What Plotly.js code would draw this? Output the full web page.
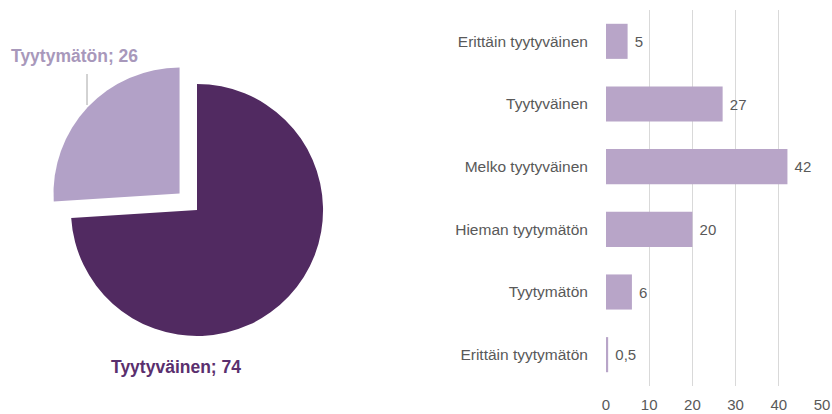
<!DOCTYPE html>
<html>
<head>
<meta charset="utf-8">
<script src="https://cdn.plot.ly/plotly-3.0.1.min.js"></script>
<style>html,body{margin:0;padding:0;background:#fff;}#chart{width:832px;height:414px;}</style>
</head>
<body>
<div id="chart"></div>
<script>
// Pie data
const pieLabels = ['Tyytyväinen', 'Tyytymätön'];
const pieValues = [74, 26];
// Bar data
const barCategories = ['Erittäin tyytyväinen', 'Tyytyväinen', 'Melko tyytyväinen', 'Hieman tyytymätön', 'Tyytymätön', 'Erittäin tyytymätön'];
const barValues = [5, 27, 42, 20, 6, 0.5];
const xTicks = [0, 10, 20, 30, 40, 50];

const W = 832, H = 414;
const px = x => x / W;
const py = y => 1 - y / H;

const pie = {
  type: 'pie',
  labels: pieLabels,
  values: pieValues,
  sort: false,
  direction: 'clockwise',
  rotation: 0,
  pull: [0, 0.19],
  marker: {colors: ['#512a61', '#b2a1c7'], line: {width: 0}},
  textinfo: 'none',
  hoverinfo: 'label+value',
  showlegend: false,
  domain: {x: [px(47), px(347)], y: [py(360), py(60)]}
};

const bar = {
  type: 'bar',
  orientation: 'h',
  y: barCategories,
  x: barValues,
  marker: {color: '#b8a5c8'},
  text: barValues.map(v => '\u00a0' + String(v).replace('.', ',')),
  textposition: 'outside',
  cliponaxis: false,
  textfont: {family: 'Liberation Sans, Arial, sans-serif', size: 15, color: '#595959'},
  xaxis: 'x',
  yaxis: 'y',
  showlegend: false
};

const layout = {
  width: W, height: H,
  margin: {l: 0, r: 0, t: 0, b: 0},
  paper_bgcolor: '#fff',
  plot_bgcolor: '#fff',
  separators: ', ',
  bargap: 0.44,
  font: {family: 'Liberation Sans, Arial, sans-serif', color: '#595959', size: 15},
  xaxis: {
    domain: [px(606), px(822)],
    anchor: 'y',
    range: [0, 50],
    tickvals: xTicks,
    showgrid: true,
    gridcolor: '#d9d9d9',
    gridwidth: 1,
    zeroline: false,
    showline: false,
    ticks: 'outside',
    ticklen: 5,
    tickcolor: 'rgba(0,0,0,0)',
    tickfont: {size: 15, color: '#595959'},
    fixedrange: true
  },
  yaxis: {
    domain: [py(386), py(10)],
    anchor: 'x',
    autorange: 'reversed',
    type: 'category',
    showgrid: false,
    zeroline: false,
    showline: false,
    ticks: 'outside',
    ticklen: 14,
    tickcolor: 'rgba(0,0,0,0)',
    tickfont: {size: 15.5, color: '#595959'},
    fixedrange: true
  },
  annotations: [
    {xref: 'paper', yref: 'paper', x: px(74), y: py(56), text: '<b>' + pieLabels[1] + '; ' + pieValues[1] + '</b>',
     showarrow: false, font: {size: 17.5, color: '#a898bb'}, xanchor: 'center', yanchor: 'middle'},
    {xref: 'paper', yref: 'paper', x: px(176), y: py(367), text: '<b>' + pieLabels[0] + '; ' + pieValues[0] + '</b>',
     showarrow: false, font: {size: 17.5, color: '#5a2f6e'}, xanchor: 'center', yanchor: 'middle'}
  ],
  shapes: [
    {type: 'line', xref: 'paper', yref: 'paper', x0: px(87), x1: px(87), y0: py(74), y1: py(105),
     line: {color: '#a6a6a6', width: 1}}
  ]
};

Plotly.newPlot('chart', [pie, bar], layout, {displayModeBar: false, staticPlot: true});
</script>
</body>
</html>
